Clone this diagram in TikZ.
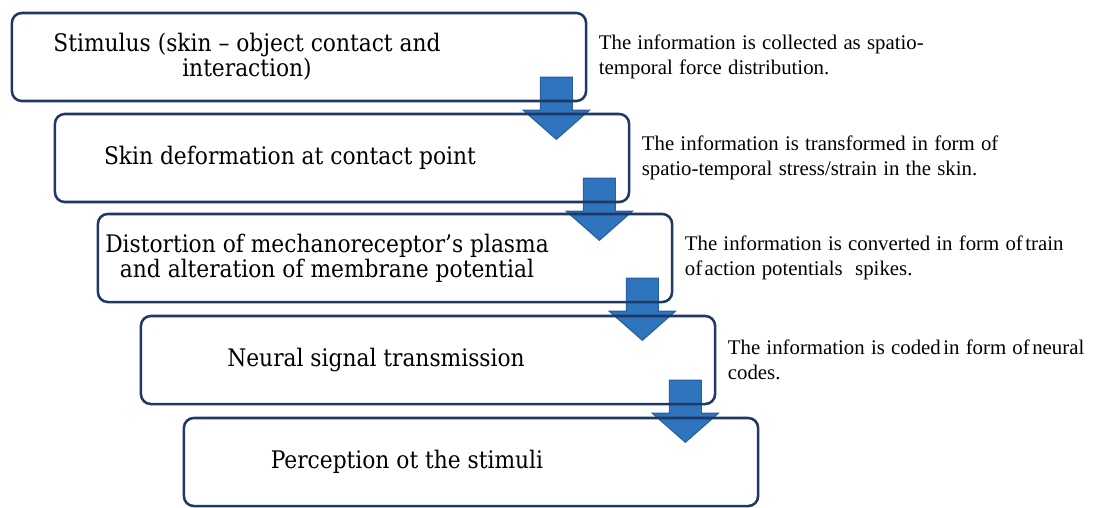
\documentclass[tikz,border=0pt]{standalone}
\usepackage{fontspec}
\setmainfont{Liberation Serif}
\newfontfamily\stagefont{DejaVu Serif Condensed}
\usetikzlibrary{positioning,calc,backgrounds}
\definecolor{stageBlue}{RGB}{31,56,100}
\definecolor{arrowBlue}{RGB}{46,117,190}
\definecolor{arrowEdge}{RGB}{40,95,165}
\newcommand{\notefont}{\fontsize{14.8}{17.8}\selectfont\spaceskip=0.3em\relax}

\tikzset{
  stage/.style={draw=stageBlue, line width=1.8pt, rounded corners=7pt,
    minimum width=14.35cm, minimum height=2.2cm},
  stagetext/.style={font=\stagefont\fontsize{17.2}{18}\selectfont, align=center},
  note/.style={font=\notefont, align=left, inner sep=0pt},
  blockarrow/.style={fill=arrowBlue, draw=arrowEdge, line width=0.8pt},
}

\begin{document}
\begin{tikzpicture}[x=0.025cm, y=-0.025cm]
  \useasboundingbox (0,0) rectangle (1104,507);
  % stages of the process
  \node[stage] (s1) at (299,57) {};
  \node[stage] (s2) at (342,158) {};
  \node[stage] (s3) at (385,258) {};
  \node[stage] (s4) at (428,360) {};
  \node[stage] (s5) at (471,462) {};
  % text in the stages
  \node[stagetext] (t1) at ([xshift=-1.3cm]s1.center) {Stimulus (skin – object contact and\\interaction)};
  \node[stagetext] (t2) at ([xshift=-1.3cm]s2.center) {Skin deformation at contact point};
  \node[stagetext] (t3) at ([xshift=-1.45cm]s3.center) {Distortion of mechanoreceptor’s plasma\\and alteration of membrane potential};
  \node[stagetext] (t4) at ([xshift=-1.3cm]s4.center) {Neural signal transmission};
  \node[stagetext] (t5) at ([xshift=-1.6cm]s5.center) {Perception ot the stimuli};
  % what happens to the information
  \node[note, right=8pt of s1] (n1) {The information is collected as spatio-\\temporal force distribution.};
  \node[note, right=8pt of s2] (n2) {The information is transformed in form of\\spatio-temporal stress/strain in the skin.};
  \node[note, right=8pt of s3] (n3) {The information is converted in form of\hspace{0.12em}train\\of\hspace{0.12em}action potentials\ \ spikes.};
  \node[note, right=8pt of s4] (n4) {The information is coded\hspace{0.12em}in form of\hspace{0.12em}neural\\codes.};
  % block arrows from stage to stage
  \begin{scope}[on background layer]
    \foreach \s in {s1,s2,s3,s4}
      \filldraw[blockarrow] ($(\s.south east)+(-47,-25)$) -- ++(32,0) -- ++(0,33)
        -- ++(17,0) -- ++(-33,29) -- ++(-33,-29) -- ++(17,0) -- cycle;
  \end{scope}
\end{tikzpicture}
\end{document}
